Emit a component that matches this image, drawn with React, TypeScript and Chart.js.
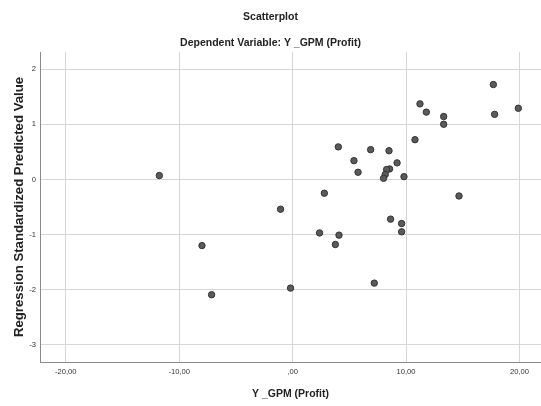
import React, { useEffect, useRef } from "react";
import { Chart, registerables } from "chart.js";

Chart.register(...registerables);

const chartTitle = "Scatterplot";
const chartSubtitle = "Dependent Variable: Y _GPM (Profit)";
const xAxisTitle = "Y _GPM (Profit)";
const yAxisTitle = "Regression Standardized Predicted Value";

const xValues = [
  17.7, 11.23, 11.79, 13.32, 17.81, 19.9, 13.32, 10.79, 4.03, 6.88, 8.5,
  5.41, 9.21, 8.55, 8.29, 5.77, 8.17, 8.02, 9.82, 2.8, 14.67, -1.06, 8.64,
  9.61, 9.61, 2.38, 4.09, 3.77, 7.2, -0.18, -11.75, -7.99, -7.14,
];
const yValues = [
  1.72, 1.37, 1.22, 1.14, 1.18, 1.29, 1.0, 0.72, 0.59, 0.54, 0.52, 0.34, 0.3,
  0.19, 0.18, 0.13, 0.09, 0.02, 0.05, -0.25, -0.3, -0.54, -0.72, -0.8, -0.95,
  -0.97, -1.01, -1.18, -1.88, -1.97, 0.07, -1.2, -2.09,
];

const xTicks = [-20, -10, 0, 10, 20];
const xTickLabels = ["-20,00", "-10,00", ",00", "10,00", "20,00"];
const yTicks = [-3, -2, -1, 0, 1, 2];
const yTickLabels = ["-3", "-2", "-1", "0", "1", "2"];
const xRange = [-22.27, 21.9];
const yRange = [-3.31, 2.31];

const FONT = "'Liberation Sans', Arial, sans-serif";

export default function App() {
  const ref = useRef<HTMLCanvasElement | null>(null);

  useEffect(() => {
    if (!ref.current) return;
    const points = xValues.map((x, i) => ({ x, y: yValues[i] }));
    const zeroPad = (scale: any) => {
      scale.paddingLeft = 0;
      scale.paddingRight = 0;
      scale.paddingTop = 0;
      scale.paddingBottom = 0;
    };
    const chart = new Chart(ref.current, {
      type: "scatter",
      data: {
        datasets: [
          {
            data: points,
            pointRadius: 3.2,
            pointBackgroundColor: "#5a5a5a",
            pointBorderColor: "#333333",
            pointBorderWidth: 1,
          },
        ],
      },
      options: {
        responsive: false,
        animation: false,
        devicePixelRatio: 1,
        layout: { autoPadding: false, padding: { left: 0, right: 0, top: 0, bottom: 0 } },
        plugins: {
          legend: { display: false },
          tooltip: { enabled: false },
          title: {
            display: true,
            text: chartTitle,
            color: "#222",
            font: { family: FONT, size: 10.5, weight: "bold" },
            padding: { top: 10.5, bottom: 0 },
          },
          subtitle: {
            display: true,
            text: chartSubtitle,
            color: "#222",
            font: { family: FONT, size: 10.5, weight: "bold" },
            padding: { top: 13.4, bottom: 2.9 },
          },
        },
        scales: {
          x: {
            type: "linear",
            min: xRange[0],
            max: xRange[1],
            afterBuildTicks: (scale: any) => {
              scale.ticks = xTicks.map((v) => ({ value: v }));
            },
            afterFit: (scale: any) => {
              scale.height = 44;
              zeroPad(scale);
            },
            ticks: {
              padding: 5.5,
              color: "#333",
              font: { family: FONT, size: 7.6 },
              maxRotation: 0,
              callback: (v: any) => xTickLabels[xTicks.indexOf(Number(v))],
            },
            grid: { color: "#d6d6d6", lineWidth: 1, drawTicks: false },
            border: { color: "#8a8a8a", width: 1 },
            title: {
              display: true,
              text: xAxisTitle,
              color: "#222",
              font: { family: FONT, size: 10.5, weight: "bold" },
              padding: { top: 0, bottom: 5.2 },
            },
          },
          y: {
            type: "linear",
            min: yRange[0],
            max: yRange[1],
            afterBuildTicks: (scale: any) => {
              scale.ticks = yTicks.map((v) => ({ value: v }));
            },
            afterFit: (scale: any) => {
              scale.width = 40;
              zeroPad(scale);
            },
            ticks: {
              padding: 4,
              color: "#333",
              font: { family: FONT, size: 7.6 },
              callback: (v: any) => yTickLabels[yTicks.indexOf(Number(v))],
            },
            grid: { color: "#d6d6d6", lineWidth: 1, drawTicks: false },
            border: { color: "#8a8a8a", width: 1 },
            title: {
              display: true,
              text: yAxisTitle,
              color: "#222",
              font: { family: FONT, size: 13.2, weight: "bold" },
              padding: { top: 11, bottom: 0 },
            },
          },
        },
      },
    } as any);
    return () => chart.destroy();
  }, []);

  return (
    <div style={{ position: "absolute", left: 0, top: 0, width: 541, height: 406, background: "#fff" }}>
      <canvas ref={ref} width={541} height={406} />
    </div>
  );
}
